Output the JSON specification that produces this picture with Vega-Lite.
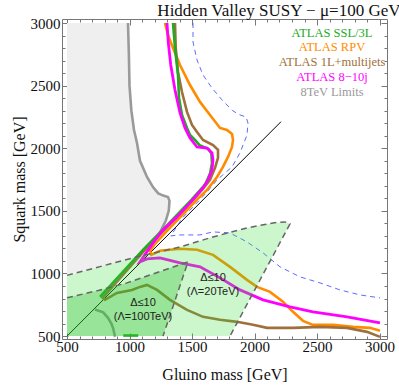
{
  "$schema": "https://vega.github.io/schema/vega-lite/v6.json",
  "width": 325,
  "height": 320,
  "autosize": {"type": "none"},
  "padding": {"left": 62, "top": 19, "right": 12, "bottom": 51},
  "title": {"text": "Hidden Valley SUSY − μ=100 GeV", "anchor": "end", "font": "Liberation Serif", "fontSize": 17, "fontWeight": "normal", "color": "#111", "dx": 6, "offset": -4},
  "config": {"view": {"stroke": "#777", "strokeWidth": 1}},
  "datasets": {
    "grayArea": [
      {"q": 990, "g": 500}, {"q": 1060, "g": 780}, {"q": 1125, "g": 1028}, {"q": 1180, "g": 1110}, {"q": 1230, "g": 1175},
      {"q": 1260, "g": 1200}, {"q": 1340, "g": 1250}, {"q": 1420, "g": 1290}, {"q": 1500, "g": 1314}, {"q": 1580, "g": 1320},
      {"q": 1610, "g": 1308}, {"q": 1622, "g": 1270}, {"q": 1640, "g": 1230}, {"q": 1690, "g": 1188}, {"q": 1771, "g": 1140},
      {"q": 1900, "g": 1084}, {"q": 2042, "g": 1060}, {"q": 2146, "g": 1036}, {"q": 2300, "g": 1015}, {"q": 2500, "g": 1000},
      {"q": 2750, "g": 995}, {"q": 3000, "g": 988}
    ],
    "regA": [
      {"g": 500, "q": 985, "q2": 500}, {"g": 1028, "q": 1125, "q2": 500}, {"g": 1404, "q": 1212, "q2": 500},
      {"g": 1668, "q": 1292, "q2": 500}, {"g": 1804, "q": 1328, "q2": 500}, {"g": 1940, "q": 1364, "q2": 754},
      {"g": 2148, "q": 1404, "q2": 1142}, {"g": 2244, "q": 1412, "q2": 1321}, {"g": 2284, "q": 1396, "q2": 1396}
    ],
    "regB": [
      {"g": 500, "q": 806, "q2": 500}, {"g": 750, "q": 865, "q2": 500}, {"g": 980, "q": 925, "q2": 500},
      {"g": 1268, "q": 1024, "q2": 500}, {"g": 1468, "q": 1093, "q2": 1093}
    ],
    "curves": [
      {"s": "gray", "o": 1, "g": 988, "q": 3000}, {"s": "gray", "o": 2, "g": 995, "q": 2750}, {"s": "gray", "o": 3, "g": 1000, "q": 2500},
      {"s": "gray", "o": 4, "g": 1015, "q": 2300}, {"s": "gray", "o": 5, "g": 1036, "q": 2146}, {"s": "gray", "o": 6, "g": 1060, "q": 2042},
      {"s": "gray", "o": 7, "g": 1084, "q": 1900}, {"s": "gray", "o": 8, "g": 1140, "q": 1771}, {"s": "gray", "o": 9, "g": 1188, "q": 1690},
      {"s": "gray", "o": 10, "g": 1230, "q": 1640}, {"s": "gray", "o": 11, "g": 1270, "q": 1622}, {"s": "gray", "o": 12, "g": 1308, "q": 1610},
      {"s": "gray", "o": 13, "g": 1320, "q": 1580}, {"s": "gray", "o": 14, "g": 1314, "q": 1500}, {"s": "gray", "o": 15, "g": 1290, "q": 1420},
      {"s": "gray", "o": 16, "g": 1250, "q": 1340}, {"s": "gray", "o": 17, "g": 1200, "q": 1260}, {"s": "gray", "o": 18, "g": 1175, "q": 1230},

      {"s": "diag", "o": 1, "g": 500, "q": 500}, {"s": "diag", "o": 2, "g": 2212, "q": 2212},

      {"s": "blue", "o": 1, "g": 1508, "q": 3000}, {"s": "blue", "o": 2, "g": 1508, "q": 2848}, {"s": "blue", "o": 3, "g": 1540, "q": 2705},
      {"s": "blue", "o": 4, "g": 1588, "q": 2585}, {"s": "blue", "o": 5, "g": 1660, "q": 2481}, {"s": "blue", "o": 6, "g": 1740, "q": 2386},
      {"s": "blue", "o": 7, "g": 1828, "q": 2298}, {"s": "blue", "o": 8, "g": 1884, "q": 2266}, {"s": "blue", "o": 9, "g": 1932, "q": 2250},
      {"s": "blue", "o": 10, "g": 1948, "q": 2202}, {"s": "blue", "o": 11, "g": 1940, "q": 2106}, {"s": "blue", "o": 12, "g": 1884, "q": 1963},
      {"s": "blue", "o": 13, "g": 1820, "q": 1851}, {"s": "blue", "o": 14, "g": 1700, "q": 1747}, {"s": "blue", "o": 15, "g": 1620, "q": 1650},
      {"s": "blue", "o": 16, "g": 1564, "q": 1590}, {"s": "blue", "o": 17, "g": 1420, "q": 1440}, {"s": "blue", "o": 18, "g": 1330, "q": 1300},
      {"s": "blue", "o": 19, "g": 1404, "q": 1308}, {"s": "blue", "o": 20, "g": 1564, "q": 1308}, {"s": "blue", "o": 21, "g": 1668, "q": 1332},
      {"s": "blue", "o": 22, "g": 1804, "q": 1324}, {"s": "blue", "o": 23, "g": 1940, "q": 1252}, {"s": "blue", "o": 24, "g": 2068, "q": 1165},
      {"s": "blue", "o": 25, "g": 2204, "q": 1053}, {"s": "blue", "o": 26, "g": 2364, "q": 973}, {"s": "blue", "o": 27, "g": 2524, "q": 925},
      {"s": "blue", "o": 28, "g": 2684, "q": 869}, {"s": "blue", "o": 29, "g": 2844, "q": 829}, {"s": "blue", "o": 30, "g": 3004, "q": 805},

      {"s": "rpv", "o": 1, "g": 1284, "q": 3000}, {"s": "rpv", "o": 2, "g": 1308, "q": 2904}, {"s": "rpv", "o": 3, "g": 1348, "q": 2800},
      {"s": "rpv", "o": 4, "g": 1404, "q": 2665}, {"s": "rpv", "o": 5, "g": 1484, "q": 2505}, {"s": "rpv", "o": 6, "g": 1564, "q": 2370},
      {"s": "rpv", "o": 7, "g": 1644, "q": 2266}, {"s": "rpv", "o": 8, "g": 1724, "q": 2162}, {"s": "rpv", "o": 9, "g": 1780, "q": 2146},
      {"s": "rpv", "o": 10, "g": 1820, "q": 2114}, {"s": "rpv", "o": 11, "g": 1828, "q": 2066}, {"s": "rpv", "o": 12, "g": 1820, "q": 2010},
      {"s": "rpv", "o": 13, "g": 1788, "q": 1931}, {"s": "rpv", "o": 14, "g": 1748, "q": 1851}, {"s": "rpv", "o": 15, "g": 1700, "q": 1771},
      {"s": "rpv", "o": 16, "g": 1620, "q": 1667}, {"s": "rpv", "o": 17, "g": 1540, "q": 1590}, {"s": "rpv", "o": 18, "g": 1420, "q": 1465},
      {"s": "rpv", "o": 19, "g": 1300, "q": 1340}, {"s": "rpv", "o": 20, "g": 1200, "q": 1232}, {"s": "rpv", "o": 21, "g": 1165, "q": 1180},
      {"s": "rpv", "o": 22, "g": 1175, "q": 1150}, {"s": "rpv", "o": 23, "g": 1244, "q": 1181}, {"s": "rpv", "o": 24, "g": 1404, "q": 1197},
      {"s": "rpv", "o": 25, "g": 1540, "q": 1189}, {"s": "rpv", "o": 26, "g": 1668, "q": 1149}, {"s": "rpv", "o": 27, "g": 1804, "q": 1053},
      {"s": "rpv", "o": 28, "g": 1940, "q": 949}, {"s": "rpv", "o": 29, "g": 2020, "q": 893}, {"s": "rpv", "o": 30, "g": 2124, "q": 853},
      {"s": "rpv", "o": 31, "g": 2228, "q": 774}, {"s": "rpv", "o": 32, "g": 2308, "q": 694}, {"s": "rpv", "o": 33, "g": 2388, "q": 622},
      {"s": "rpv", "o": 34, "g": 2468, "q": 590}, {"s": "rpv", "o": 35, "g": 2628, "q": 590}, {"s": "rpv", "o": 36, "g": 2788, "q": 574},
      {"s": "rpv", "o": 37, "g": 2924, "q": 566}, {"s": "rpv", "o": 38, "g": 3004, "q": 542},

      {"s": "ml", "o": 1, "g": 1364, "q": 3000}, {"s": "ml", "o": 2, "g": 1370, "q": 2800}, {"s": "ml", "o": 3, "g": 1388, "q": 2609},
      {"s": "ml", "o": 4, "g": 1420, "q": 2449}, {"s": "ml", "o": 5, "g": 1460, "q": 2290}, {"s": "ml", "o": 6, "g": 1500, "q": 2186},
      {"s": "ml", "o": 7, "g": 1540, "q": 2130}, {"s": "ml", "o": 8, "g": 1588, "q": 2066}, {"s": "ml", "o": 9, "g": 1668, "q": 2026},
      {"s": "ml", "o": 10, "g": 1708, "q": 1987}, {"s": "ml", "o": 11, "g": 1708, "q": 1923}, {"s": "ml", "o": 12, "g": 1684, "q": 1843},
      {"s": "ml", "o": 13, "g": 1644, "q": 1747}, {"s": "ml", "o": 14, "g": 1590, "q": 1680}, {"s": "ml", "o": 15, "g": 1520, "q": 1600},
      {"s": "ml", "o": 16, "g": 1320, "q": 1390}, {"s": "ml", "o": 17, "g": 1125, "q": 1190}, {"s": "ml", "o": 18, "g": 785, "q": 805},
      {"s": "ml", "o": 19, "g": 804, "q": 790}, {"s": "ml", "o": 20, "g": 900, "q": 845}, {"s": "ml", "o": 21, "g": 1020, "q": 869},
      {"s": "ml", "o": 22, "g": 1084, "q": 893}, {"s": "ml", "o": 23, "g": 1140, "q": 909}, {"s": "ml", "o": 24, "g": 1220, "q": 869},
      {"s": "ml", "o": 25, "g": 1324, "q": 790}, {"s": "ml", "o": 26, "g": 1460, "q": 710}, {"s": "ml", "o": 27, "g": 1588, "q": 654},
      {"s": "ml", "o": 28, "g": 1724, "q": 630}, {"s": "ml", "o": 29, "g": 1860, "q": 614}, {"s": "ml", "o": 30, "g": 1988, "q": 590},
      {"s": "ml", "o": 31, "g": 2100, "q": 566}, {"s": "ml", "o": 32, "g": 2308, "q": 566}, {"s": "ml", "o": 33, "g": 2524, "q": 574},
      {"s": "ml", "o": 34, "g": 2740, "q": 566}, {"s": "ml", "o": 35, "g": 2900, "q": 534}, {"s": "ml", "o": 36, "g": 3004, "q": 494},

      {"s": "ssl", "o": 1, "g": 1348, "q": 3000}, {"s": "ssl", "o": 2, "g": 1364, "q": 2800}, {"s": "ssl", "o": 3, "g": 1388, "q": 2585},
      {"s": "ssl", "o": 4, "g": 1396, "q": 2402}, {"s": "ssl", "o": 5, "g": 1420, "q": 2266}, {"s": "ssl", "o": 6, "g": 1460, "q": 2162},
      {"s": "ssl", "o": 7, "g": 1484, "q": 2106}, {"s": "ssl", "o": 8, "g": 1524, "q": 2066}, {"s": "ssl", "o": 9, "g": 1560, "q": 2025},
      {"s": "ssl", "o": 10, "g": 1630, "q": 1995}, {"s": "ssl", "o": 11, "g": 1655, "q": 1960}, {"s": "ssl", "o": 12, "g": 1660, "q": 1880},
      {"s": "ssl", "o": 13, "g": 1645, "q": 1800}, {"s": "ssl", "o": 14, "g": 1610, "q": 1720}, {"s": "ssl", "o": 15, "g": 1588, "q": 1691},
      {"s": "ssl", "o": 16, "g": 1495, "q": 1588}, {"s": "ssl", "o": 17, "g": 1300, "q": 1385}, {"s": "ssl", "o": 18, "g": 1110, "q": 1190},
      {"s": "ssl", "o": 19, "g": 764, "q": 813},

      {"s": "sslb", "o": 1, "g": 950, "q": 505}, {"s": "sslb", "o": 2, "g": 1070, "q": 505},

      {"s": "j810", "o": 1, "g": 1300, "q": 3000}, {"s": "j810", "o": 2, "g": 1310, "q": 2848}, {"s": "j810", "o": 3, "g": 1330, "q": 2665},
      {"s": "j810", "o": 4, "g": 1364, "q": 2465}, {"s": "j810", "o": 5, "g": 1404, "q": 2282}, {"s": "j810", "o": 6, "g": 1444, "q": 2162},
      {"s": "j810", "o": 7, "g": 1484, "q": 2082}, {"s": "j810", "o": 8, "g": 1540, "q": 2010}, {"s": "j810", "o": 9, "g": 1620, "q": 2002},
      {"s": "j810", "o": 10, "g": 1660, "q": 1963}, {"s": "j810", "o": 11, "g": 1668, "q": 1907}, {"s": "j810", "o": 12, "g": 1660, "q": 1827},
      {"s": "j810", "o": 13, "g": 1628, "q": 1747}, {"s": "j810", "o": 14, "g": 1588, "q": 1683}, {"s": "j810", "o": 15, "g": 1484, "q": 1564},
      {"s": "j810", "o": 16, "g": 1380, "q": 1452}, {"s": "j810", "o": 17, "g": 1268, "q": 1348}, {"s": "j810", "o": 18, "g": 1188, "q": 1244},
      {"s": "j810", "o": 19, "g": 1084, "q": 1093}, {"s": "j810", "o": 20, "g": 1140, "q": 1117}, {"s": "j810", "o": 21, "g": 1244, "q": 1125},
      {"s": "j810", "o": 22, "g": 1404, "q": 1085}, {"s": "j810", "o": 23, "g": 1564, "q": 1053}, {"s": "j810", "o": 24, "g": 1724, "q": 965},
      {"s": "j810", "o": 25, "g": 1884, "q": 869}, {"s": "j810", "o": 26, "g": 2068, "q": 790}, {"s": "j810", "o": 27, "g": 2284, "q": 734},
      {"s": "j810", "o": 28, "g": 2468, "q": 694}, {"s": "j810", "o": 29, "g": 2740, "q": 654}, {"s": "j810", "o": 30, "g": 3004, "q": 606},

      {"s": "arc", "o": 1, "g": 724, "q": 712}, {"s": "arc", "o": 2, "g": 790, "q": 690}, {"s": "arc", "o": 3, "g": 828, "q": 646},
      {"s": "arc", "o": 4, "g": 855, "q": 600}, {"s": "arc", "o": 5, "g": 870, "q": 560}, {"s": "arc", "o": 6, "g": 884, "q": 494},

      {"s": "outA", "o": 1, "g": 500, "q": 985}, {"s": "outA", "o": 2, "g": 1028, "q": 1125}, {"s": "outA", "o": 3, "g": 1404, "q": 1212},
      {"s": "outA", "o": 4, "g": 1668, "q": 1292}, {"s": "outA", "o": 5, "g": 1940, "q": 1364}, {"s": "outA", "o": 6, "g": 2148, "q": 1404},
      {"s": "outA", "o": 7, "g": 2244, "q": 1412}, {"s": "outA", "o": 8, "g": 2284, "q": 1396}, {"s": "outA", "o": 9, "g": 1804, "q": 500},

      {"s": "outB", "o": 1, "g": 500, "q": 806}, {"s": "outB", "o": 2, "g": 750, "q": 865}, {"s": "outB", "o": 3, "g": 980, "q": 925},
      {"s": "outB", "o": 4, "g": 1468, "q": 1093}, {"s": "outB", "o": 5, "g": 1268, "q": 500}
    ],
    "notes": [
      {"g": 1108, "q": 766, "t": "Δ≤10"}, {"g": 1108, "q": 654, "t": "(Λ=100TeV)"},
      {"g": 1668, "q": 965, "t": "Δ≤10"}, {"g": 1668, "q": 853, "t": "(Λ=20TeV)"}
    ],
    "legend": [
      {"g": 2620, "q": 2920, "t": "ATLAS SSL/3L"},
      {"g": 2620, "q": 2808, "t": "ATLAS RPV"},
      {"g": 2620, "q": 2689, "t": "ATLAS 1L+multijets"},
      {"g": 2620, "q": 2569, "t": "ATLAS 8−10j"},
      {"g": 2620, "q": 2449, "t": "8TeV Limits"}
    ]
  },
  "layer": [
    {
      "encoding": {
        "x": {"field": "g", "type": "quantitative", "scale": {"domain": [460, 3060], "nice": false, "zero": false},
          "axis": {"orient": "bottom", "values": [500,600,700,800,900,1000,1100,1200,1300,1400,1500,1600,1700,1800,1900,2000,2100,2200,2300,2400,2500,2600,2700,2800,2900,3000],
            "format": "d", "labelExpr": "datum.value % 500 === 0 ? datum.label : ''", "labelOverlap": false, "labelFlush": false,
            "tickSize": {"condition": {"test": "datum.value % 500 === 0", "value": -6}, "value": -3}, "tickColor": "#777", "domain": false, "grid": false,
            "labelFont": "Liberation Serif", "labelFontSize": 15, "labelColor": "#111", "labelPadding": 6,
            "title": "Gluino mass [GeV]", "titleFont": "Liberation Serif", "titleFontSize": 16, "titleFontWeight": "normal", "titleColor": "#111", "titlePadding": 9}},
        "y": {"field": "q", "type": "quantitative", "scale": {"domain": [477, 3032], "nice": false, "zero": false},
          "axis": {"orient": "left", "values": [500,600,700,800,900,1000,1100,1200,1300,1400,1500,1600,1700,1800,1900,2000,2100,2200,2300,2400,2500,2600,2700,2800,2900,3000],
            "format": "d", "labelExpr": "datum.value % 500 === 0 ? datum.label : ''", "labelOverlap": false, "labelFlush": false,
            "tickSize": {"condition": {"test": "datum.value % 500 === 0", "value": -6}, "value": -3}, "tickColor": "#777", "domain": false, "grid": false,
            "labelFont": "Liberation Serif", "labelFontSize": 15, "labelColor": "#111", "labelPadding": 8,
            "title": "Squark mass [GeV]", "titleFont": "Liberation Serif", "titleFontSize": 16, "titleFontWeight": "normal", "titleColor": "#111", "titlePadding": 3}}
      },
      "layer": [
        {"data": {"name": "grayArea"}, "mark": {"type": "area", "orient": "horizontal", "color": "#efefef", "clip": true}, "encoding": {"x2": {"datum": 500}}},
        {"data": {"name": "curves"}, "transform": [{"filter": "datum.s === 'gray'"}], "mark": {"type": "line", "color": "#9a9a9a", "strokeWidth": 2.6, "clip": true}, "encoding": {"order": {"field": "o"}}},
        {"data": {"name": "curves"}, "transform": [{"filter": "datum.s === 'diag'"}], "mark": {"type": "line", "color": "#000000", "strokeWidth": 1, "clip": true}, "encoding": {"order": {"field": "o"}}},
        {"data": {"name": "curves"}, "transform": [{"filter": "datum.s === 'blue'"}], "mark": {"type": "line", "color": "#5a6cff", "strokeWidth": 1, "strokeDash": [5, 4], "clip": true}, "encoding": {"order": {"field": "o"}}},
        {"data": {"name": "curves"}, "transform": [{"filter": "datum.s === 'arc'"}], "mark": {"type": "line", "color": "#808080", "strokeWidth": 2.6, "opacity": 0.8, "clip": true}, "encoding": {"order": {"field": "o"}}},
        {"data": {"name": "curves"}, "transform": [{"filter": "datum.s === 'rpv'"}], "mark": {"type": "line", "color": "#ff8c00", "strokeWidth": 2.6, "clip": true}, "encoding": {"order": {"field": "o"}}},
        {"data": {"name": "curves"}, "transform": [{"filter": "datum.s === 'ml'"}], "mark": {"type": "line", "color": "#a0703c", "strokeWidth": 2.6, "clip": true}, "encoding": {"order": {"field": "o"}}},
        {"data": {"name": "curves"}, "transform": [{"filter": "datum.s === 'ssl' || datum.s === 'sslb'"}], "mark": {"type": "line", "color": "#22aa22", "strokeWidth": 2.6, "clip": true}, "encoding": {"order": {"field": "o"}, "detail": {"field": "s"}}},
        {"data": {"name": "curves"}, "transform": [{"filter": "datum.s === 'j810'"}], "mark": {"type": "line", "color": "#ff00ff", "strokeWidth": 2.8, "clip": true}, "encoding": {"order": {"field": "o"}}},
        {"data": {"name": "regA"}, "mark": {"type": "area", "color": "#33dd33", "opacity": 0.25, "clip": true}, "encoding": {"y2": {"field": "q2"}}},
        {"data": {"name": "regB"}, "mark": {"type": "area", "color": "#22bb22", "opacity": 0.3, "clip": true}, "encoding": {"y2": {"field": "q2"}}},
        {"data": {"name": "curves"}, "transform": [{"filter": "datum.s === 'outA' || datum.s === 'outB'"}], "mark": {"type": "line", "color": "#666666", "strokeWidth": 1.5, "strokeDash": [6, 4], "clip": true}, "encoding": {"order": {"field": "o"}, "detail": {"field": "s"}}},
        {"data": {"name": "notes"}, "mark": {"type": "text", "font": "Liberation Sans", "fontSize": 11, "color": "#222", "align": "center", "baseline": "middle"}, "encoding": {"text": {"field": "t"}}}
      ]
    },
    {
      "data": {"name": "legend"},
      "mark": {"type": "text", "font": "Liberation Serif", "fontSize": 12.5, "align": "center", "baseline": "middle"},
      "encoding": {
        "x": {"field": "g", "type": "quantitative", "scale": {"domain": [460, 3060], "nice": false, "zero": false},
          "axis": {"orient": "top", "values": [500,600,700,800,900,1000,1100,1200,1300,1400,1500,1600,1700,1800,1900,2000,2100,2200,2300,2400,2500,2600,2700,2800,2900,3000],
            "labels": false, "title": null, "domain": false, "grid": false, "tickColor": "#777",
            "tickSize": {"condition": {"test": "datum.value % 500 === 0", "value": -6}, "value": -3}}},
        "y": {"field": "q", "type": "quantitative", "scale": {"domain": [477, 3032], "nice": false, "zero": false},
          "axis": {"orient": "right", "values": [500,600,700,800,900,1000,1100,1200,1300,1400,1500,1600,1700,1800,1900,2000,2100,2200,2300,2400,2500,2600,2700,2800,2900,3000],
            "labels": false, "title": null, "domain": false, "grid": false, "tickColor": "#777",
            "tickSize": {"condition": {"test": "datum.value % 500 === 0", "value": -6}, "value": -3}}},
        "text": {"field": "t"},
        "color": {"field": "t", "type": "nominal", "legend": null,
          "scale": {"domain": ["ATLAS SSL/3L", "ATLAS RPV", "ATLAS 1L+multijets", "ATLAS 8−10j", "8TeV Limits"], "range": ["#22aa22", "#ff8c00", "#a0703c", "#ff00ff", "#9a9a9a"]}}
      }
    }
  ],
  "resolve": {"axis": {"x": "independent", "y": "independent"}}
}
